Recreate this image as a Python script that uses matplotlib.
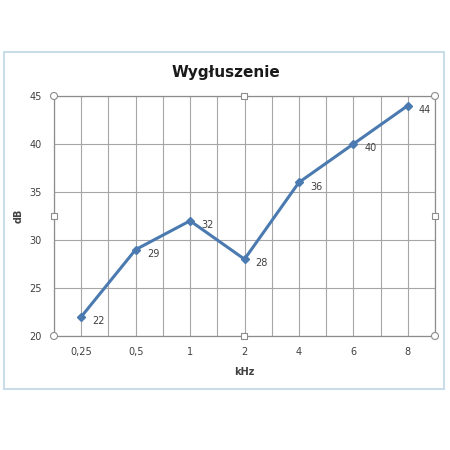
import matplotlib.pyplot as plt
from matplotlib.patches import Rectangle, Circle

# data
freqs = ["0,25", "0,5", "1", "2", "4", "6", "8"]
levels = [22, 29, 32, 28, 36, 40, 44]
y_ticks = [20, 25, 30, 35, 40, 45]

line_col = "#4a7ab0"
grid_col = "#a6a6a6"
text_col = "#404040"

fig = plt.figure(figsize=(4.5, 4.5), dpi=100)
fig.patch.set_facecolor("white")

# outer chart frame (Excel selection border)
frame = Rectangle((4 / 450, 1 - 389 / 450), 440 / 450, 337 / 450,
                  transform=fig.transFigure, fill=False,
                  edgecolor="#c9dce8", linewidth=1.5)
fig.patches.append(frame)

ax = fig.add_axes([54 / 450, 1 - 336 / 450, 381 / 450, 240 / 450])
x = list(range(len(freqs)))
ax.plot(x, levels, color=line_col, linewidth=2.2, marker="D",
        markersize=4.5, markeredgecolor=line_col)

for xi, yi in zip(x, levels):
    ax.annotate(str(yi), (xi, yi), xytext=(8, -3), textcoords="offset points",
                fontsize=7, color=text_col, va="center", ha="left")

ax.set_xlim(-0.5, len(freqs) - 0.5)
ax.set_ylim(20, 45)
ax.set_yticks(y_ticks)
ax.set_xticks(x)
ax.set_xticklabels(freqs)
ax.set_xticks([i + 0.5 for i in range(-1, len(freqs))], minor=True)
ax.grid(True, which="both", axis="x", color=grid_col, linewidth=0.8)
ax.grid(True, which="major", axis="y", color=grid_col, linewidth=0.8)
ax.set_axisbelow(True)
ax.tick_params(which="both", length=0, labelsize=7, colors=text_col, pad=8)
ax.tick_params(axis="y", pad=9)
for s in ax.spines.values():
    s.set_color("#8c8c8c")
    s.set_linewidth(0.9)

fig.text(226 / 450, 1 - 73 / 450, "Wygłuszenie", fontsize=11, fontweight="bold",
         color="#1a1a1a", ha="center", va="center")
ax.set_xlabel("kHz", fontsize=7, fontweight="bold", color=text_col)
ax.set_ylabel("dB", fontsize=7, fontweight="bold", color=text_col)
ax.xaxis.set_label_coords(0.5, -31 / 240)
ax.yaxis.set_label_coords(-30 / 381, 0.5)

# plot-area selection handles
for hx, hy in [(54, 96), (435, 96), (54, 336), (435, 336)]:
    fig.patches.append(Circle((hx / 450, 1 - hy / 450), 3.5 / 450,
                              transform=fig.transFigure, facecolor="white",
                              edgecolor="#8c8c8c", linewidth=0.8, zorder=5))
for hx, hy in [(244, 96), (244, 336), (54, 216), (435, 216)]:
    fig.patches.append(Rectangle(((hx - 3) / 450, 1 - (hy + 3) / 450), 6 / 450, 6 / 450,
                                 transform=fig.transFigure, facecolor="white",
                                 edgecolor="#8c8c8c", linewidth=0.8, zorder=5))

fig.savefig("out.png", dpi=100)
